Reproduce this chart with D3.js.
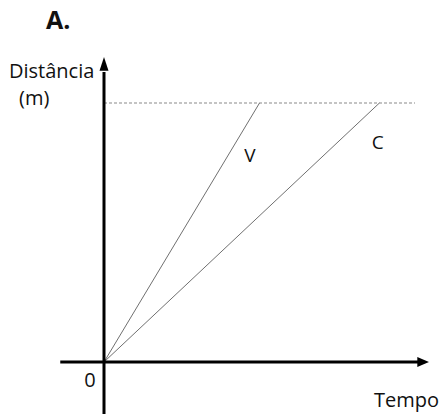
<!DOCTYPE html>
<html>
<head>
<meta charset="utf-8">
<script src="https://cdn.jsdelivr.net/npm/d3@7"></script>
<style>
  body { margin: 0; background: #fff; }
  text { font-family: "Open Sans", sans-serif; fill: #111; }
</style>
</head>
<body>
<div id="chart"></div>
<script>
// data: time taken by each runner to cover the same distance
const series = ['V', 'C'];
const tempos = [4.8, 8.5];
const distancia = 1;

const width = 443, height = 414;
const svg = d3.select('#chart')
  .append('svg')
  .attr('width', width)
  .attr('height', height);

const x = d3.scaleLinear().domain([0, 10]).range([104, 428]);
const y = d3.scaleLinear().domain([0, 1]).range([362, 103]);

// dashed reference line at the distance
svg.append('line')
  .attr('x1', x(0)).attr('x2', x(9.6))
  .attr('y1', y(distancia)).attr('y2', y(distancia))
  .attr('stroke', '#8a8a8a')
  .attr('stroke-width', 1.2)
  .attr('stroke-dasharray', '3,2');

// lines from origin
svg.selectAll('.run')
  .data(tempos)
  .enter()
  .append('line')
  .attr('class', 'run')
  .attr('x1', x(0)).attr('y1', y(0))
  .attr('x2', d => x(d)).attr('y2', y(distancia))
  .attr('stroke', '#707070')
  .attr('stroke-width', 1);

// labels for the lines
const labelPos = [[4.5, 0.772], [8.45, 0.822]];
svg.selectAll('.lab')
  .data(series)
  .enter()
  .append('text')
  .attr('class', 'lab')
  .attr('x', (d, i) => x(labelPos[i][0]))
  .attr('y', (d, i) => y(labelPos[i][1]))
  .attr('text-anchor', 'middle')
  .attr('font-size', 19)
  .text(d => d);

// axes with arrowheads
const axisX = x(0), axisY = y(0);
svg.append('line')
  .attr('x1', x(-1.35)).attr('x2', x(9.7))
  .attr('y1', axisY).attr('y2', axisY)
  .attr('stroke', '#000').attr('stroke-width', 3);
svg.append('path')
  .attr('d', `M${x(10.03)},${axisY} L${x(9.67)},${axisY - 5} L${x(9.67)},${axisY + 5} Z`)
  .attr('fill', '#000');

svg.append('line')
  .attr('x1', axisX).attr('x2', axisX)
  .attr('y1', height).attr('y2', y(1.12))
  .attr('stroke', '#000').attr('stroke-width', 3);
svg.append('path')
  .attr('d', `M${axisX},${y(1.178)} L${axisX - 4.5},${y(1.125)} L${axisX + 4.5},${y(1.125)} Z`)
  .attr('fill', '#000');

// text
svg.append('text')
  .attr('x', 46).attr('y', 29)
  .attr('font-size', 25).attr('font-weight', 'bold')
  .text('A.');
svg.append('text')
  .attr('x', 9).attr('y', 78)
  .attr('font-size', 20)
  .text('Distância');
svg.append('text')
  .attr('x', 19).attr('y', 105)
  .attr('font-size', 20)
  .text('(m)');
svg.append('text')
  .attr('x', 90).attr('y', 387)
  .attr('text-anchor', 'middle')
  .attr('font-size', 20)
  .text('0');
svg.append('text')
  .attr('x', 374).attr('y', 407)
  .attr('font-size', 20)
  .text('Tempo');
</script>
</body>
</html>
